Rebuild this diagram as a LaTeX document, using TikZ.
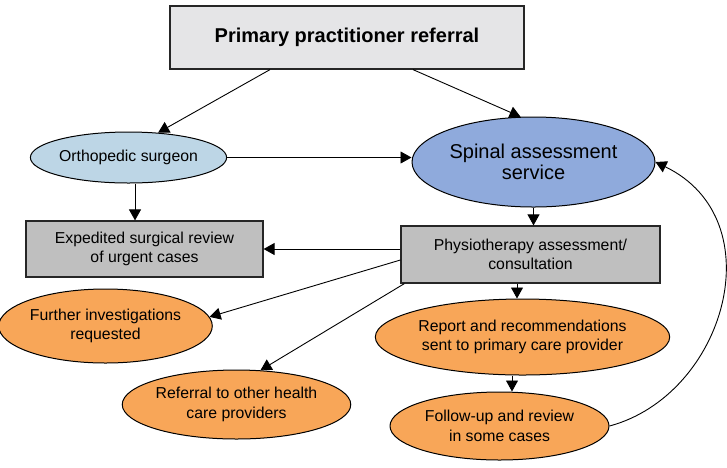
\documentclass[tikz,border=0pt]{standalone}
\usepackage{fontspec}
\setmainfont{Liberation Sans}
\usepackage{xcolor}
\usetikzlibrary{
  arrows.meta,
  positioning,
  shapes.geometric
}
\definecolor{referralgray}{RGB}{229,229,231}
\definecolor{stepgray}{RGB}{191,191,191}
\definecolor{surgeonblue}{RGB}{189,214,230}
\definecolor{spinalblue}{RGB}{143,170,220}
\definecolor{outcomeorange}{RGB}{248,166,88}
\tikzset{
  flowbox/.style={
    draw=black!85,
    line width=1.2pt,
    align=center,
    inner sep=0pt,
    font=\fontsize{15.8}{19.5}\selectfont
  },
  referralbox/.style={flowbox,fill=referralgray,font=\fontsize{20}{24}\selectfont\bfseries},
  stepbox/.style={flowbox,fill=stepgray},
  oval/.style={
    ellipse,
    draw=black,
    line width=1pt,
    align=center,
    inner sep=0pt,
    font=\fontsize{15.8}{19.5}\selectfont
  },
  surgeonoval/.style={oval,fill=surgeonblue},
  spinaloval/.style={oval,fill=spinalblue,font=\fontsize{20}{21.5}\selectfont},
  outcomeoval/.style={oval,fill=outcomeorange},
  flowarrow/.style={-{Triangle[length=11pt,width=12pt]},line width=0.9pt,draw=black},
}

\begin{document}
\begin{tikzpicture}[x=1pt,y=-1pt]
  \useasboundingbox (0,0) rectangle (727,467);

  % Entry and first contacts
  \node[referralbox,minimum width=354pt,minimum height=63pt] (gp) at (347,37.5) {Primary practitioner referral};
  \node[surgeonoval,minimum width=183pt,minimum height=51pt] (ortho) at (128.5,157.5) {Orthopedic surgeon};
  \node[spinaloval,minimum width=243pt,minimum height=90pt] (spinal) at (533.5,162) {Spinal assessment\\service};

  % Assessment boxes
  \node[stepbox,minimum width=259pt,minimum height=57pt] (physio) at (530.5,254.5) {Physiotherapy assessment/\\consultation};
  \node[stepbox,minimum width=237pt,minimum height=56pt] (expedited) at (144.5,249) {Expedited surgical review\\of urgent cases};

  % Outcomes
  \node[outcomeoval,minimum width=199pt,minimum height=74pt] (further) at (105.5,326) {Further investigations\\requested};
  \node[outcomeoval,minimum width=213pt,minimum height=69pt] (otherhcp) at (236.5,404.5) {Referral to other health\\care providers};
  \node[outcomeoval,minimum width=289pt,minimum height=76pt] (report) at (522.5,337) {Report and recommendations\\sent to primary care provider};
  \node[outcomeoval,minimum width=219pt,minimum height=68pt] (followup) at (499.5,426) {Follow-up and review\\in some cases};

  % Connectors
  \draw[flowarrow] ([xshift=-77pt]gp.south) -- (ortho.40);
  \draw[flowarrow] ([xshift=66pt]gp.south) -- (spinal.106);
  \draw[flowarrow] (ortho.east) -- (ortho.east -| spinal.west);
  \draw[flowarrow] ([xshift=6.5pt]ortho.south) -- ([xshift=6.5pt]ortho.south |- expedited.north);
  \draw[flowarrow] (spinal.south) -- (spinal.south |- physio.north);
  \draw[flowarrow] (physio.west |- expedited.east) -- (expedited.east);
  \draw[flowarrow] ([yshift=-5.5pt]physio.west) -- (further.5);
  \draw[flowarrow] ([xshift=4pt]physio.south west) -- (otherhcp.55);
  \draw[flowarrow] ([xshift=-13.5pt]physio.south) -- ([xshift=-13.5pt]physio.south |- report.north);
  \draw[flowarrow] ([xshift=-10.5pt]report.south) -- ([xshift=-10.5pt]report.south |- followup.north);
  \draw[flowarrow] (followup.east) .. controls (725,395) and (775,220) .. (spinal.east);
\end{tikzpicture}
\end{document}
